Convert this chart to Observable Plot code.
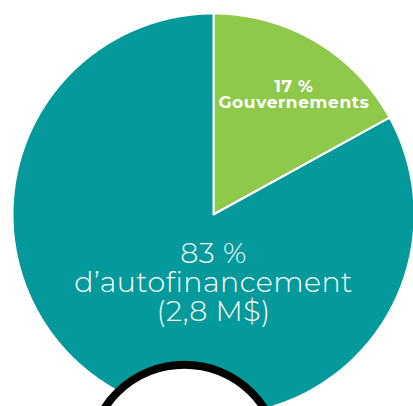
<!DOCTYPE html>
<html>
<head>
<meta charset="utf-8">
<script src="https://cdn.jsdelivr.net/npm/d3@7"></script>
<script src="https://cdn.jsdelivr.net/npm/@observablehq/plot@0.6"></script>
<style>
  html, body { margin: 0; padding: 0; background: #fff; }
  #chart svg { display: block; }
</style>
</head>
<body>
<div id="chart"></div>
<script>
// Data
const categories = ["Gouvernements", "Autofinancement"];
const shares = [17, 83];
const pctLabels = ["17 %", "83 %"];
const subLabels = ["Gouvernements", "d’autofinancement"];
const amountLabels = ["", "(2,8 M$)"];
const colors = ["#8fc94a", "#049a9b"];

// Build slice polygons from the shares (angle measured clockwise from 12 o'clock)
const total = d3.sum(shares);
const slices = [];
let start = 0;
categories.forEach((c, i) => {
  const end = start + shares[i] / total * 2 * Math.PI;
  slices.push({x: 0, y: 0, cat: c});
  const n = Math.max(2, Math.ceil((end - start) / (Math.PI / 360)));
  for (let k = 0; k <= n; k++) {
    const a = start + (end - start) * k / n;
    slices.push({x: Math.sin(a), y: Math.cos(a), cat: c});
  }
  start = end;
});

const font = "Montserrat, 'Open Sans', sans-serif";

const chart = Plot.plot({
  width: 413,
  height: 406,
  margin: 0,
  style: {background: "#fff", fontFamily: font},
  x: {domain: [-1, 1], range: [12, 414], axis: null},
  y: {domain: [-1, 1], range: [415, 13], axis: null},
  color: {domain: categories, range: colors},
  marks: [
    Plot.line(slices, {
      x: "x", y: "y", z: "cat", fill: "cat",
      stroke: "#ffffff", strokeWidth: 2, curve: "linear-closed", strokeLinejoin: "round"
    }),
    // decorative circle at the bottom
    Plot.dot([0], {x: () => -0.145, y: () => -1.22, r: 95, fill: "#ffffff", stroke: "#000000", strokeWidth: 8}),
    // green slice label
    Plot.text([0], {
      x: () => 0.40, y: () => 0.595,
      text: () => pctLabels[0] + "\n" + subLabels[0],
      lineAnchor: "middle", lineHeight: 0.95,
      fill: "#fff", fontSize: 17, fontWeight: 700, fontFamily: font
    }),
    // teal slice label
    Plot.text([0], {
      x: () => 0, y: () => -0.341,
      text: () => pctLabels[1] + "\n" + subLabels[1] + "\n" + amountLabels[1],
      lineAnchor: "middle", lineHeight: 1.02,
      fill: "#fff", fontSize: 28.5, fontWeight: 300, fontFamily: font
    })
  ]
});
d3.select(chart).selectAll("g").each(function() {
  const fs = this.getAttribute("font-size");
  if (fs === "28.5") this.setAttribute("letter-spacing", "0.45px");
  if (fs === "17") this.setAttribute("letter-spacing", "0.6px");
});
document.getElementById("chart").appendChild(chart);
</script>
</body>
</html>
